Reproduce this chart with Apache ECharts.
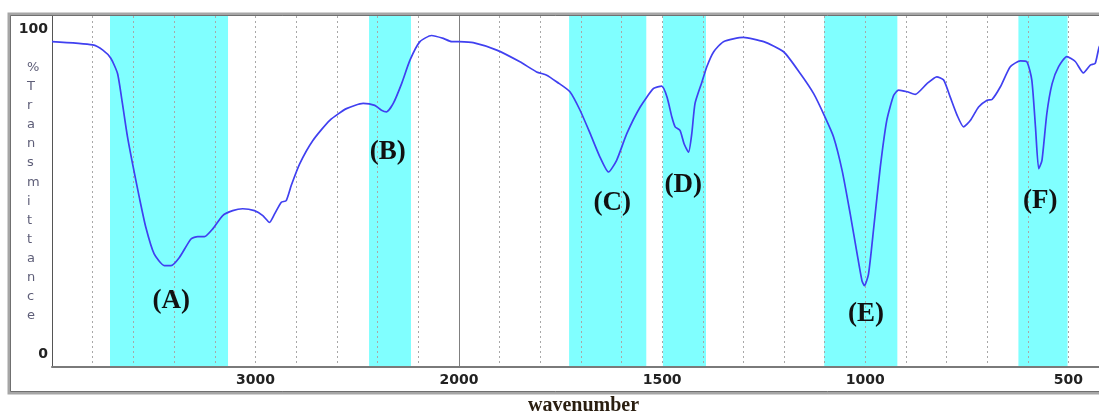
<!DOCTYPE html>
<html>
<head>
<meta charset="utf-8">
<script src="https://cdn.jsdelivr.net/npm/echarts@6/dist/echarts.min.js"></script>
<style>
  html, body { margin: 0; padding: 0; background: #fff; }
  #chart { width: 1099px; height: 414px; }
</style>
</head>
<body>
<div id="chart"></div>
<script>
// spectrum (wavenumber, %T)
const wavenumbers = [4000, 3800, 3750, 3711, 3678, 3654, 3629, 3604, 3571, 3539, 3498, 3448, 3415, 3374, 3317, 3284, 3251, 3210, 3161, 3112,
  3063, 3005, 2964, 2931, 2906, 2873, 2849, 2824, 2783, 2718, 2635, 2553, 2471, 2414, 2381, 2356, 2323, 2282, 2241, 2192,
  2135, 2077, 2036, 2000, 1965, 1907, 1850, 1809, 1784, 1759, 1727, 1702, 1677, 1653, 1632, 1612, 1587, 1554, 1521, 1501,
  1488, 1476, 1468, 1456, 1446, 1435, 1427, 1419, 1402, 1390, 1373, 1349, 1300, 1250, 1201, 1160, 1127, 1099, 1078, 1057,
  1037, 1020, 1008, 1002, 992, 979, 963, 947, 930, 918, 897, 877, 848, 824, 807, 791, 774, 758, 741, 721,
  700, 688, 667, 643, 618, 602, 590, 581, 573, 565, 553, 540, 524, 504, 483, 463, 446, 434, 424, 410]
const transmittance = [96.1, 95.1, 93.5, 91.0, 86.3, 77.1, 66.8, 58.5, 48.2, 39.0, 30.8, 27.2, 27.2, 29.7, 35.4, 36.1, 36.1, 38.5, 42.6, 44.1,
  44.7, 44.1, 42.6, 40.5, 43.1, 46.7, 47.2, 51.9, 58.5, 65.7, 71.9, 75.5, 77.1, 76.5, 75.0, 74.5, 77.1, 83.2, 90.4, 96.1,
  98.0, 97.1, 96.1, 96.1, 95.8, 93.5, 89.9, 86.8, 85.8, 83.7, 80.7, 75.0, 67.8, 60.6, 56.0, 59.6, 67.8, 76.0, 81.7, 82.4,
  79.1, 72.9, 69.9, 68.8, 64.7, 62.1, 67.8, 77.1, 83.7, 88.4, 93.0, 96.1, 97.4, 96.1, 93.0, 86.3, 80.1, 72.9, 66.8, 56.5,
  43.1, 30.8, 22.5, 21.0, 24.6, 39.0, 57.5, 71.9, 79.6, 81.2, 80.7, 79.9, 83.2, 85.3, 84.3, 79.1, 73.5, 69.9, 71.9, 76.0,
  78.1, 78.3, 82.3, 88.4, 90.2, 89.9, 84.3, 69.9, 57.0, 59.6, 74.0, 83.2, 88.4, 91.5, 90.0, 86.5, 88.9, 89.4, 94.5, 97]

// highlighted bands (from, to) and their labels
const bandNames = ['(A)', '(B)', '(C)', '(D)', '(E)', '(F)']
const bandFrom = [3715, 2442, 1729, 1498, 1101, 623]
const bandTo = [3135, 2236, 1539, 1392, 921, 502]
const labelWn = [3414, 2350, 1623, 1448, 998, 569]
const labelT = [16.4, 62, 46.3, 51.9, 12.3, 47.2]

const xTicksLeft = [3000]
const xTicksRight = [2000, 1500, 1000, 500]
const yTicks = [0, 100]

const BREAK = 2000
const chart = echarts.init(document.getElementById('chart'))

const points = wavenumbers.map((w, i) => [w, transmittance[i]])
const leftPts = points.filter(p => p[0] >= BREAK)
const rightPts = points.filter(p => p[0] <= BREAK)

const bandAreas = side => bandFrom
  .map((f, i) => [f, bandTo[i]])
  .filter(b => side === 0 ? b[1] >= BREAK : b[0] <= BREAK)
  .map(b => [{ xAxis: b[0] }, { xAxis: b[1] }])

const bandLabels = side => bandNames
  .map((n, i) => ({ n, w: labelWn[i], t: labelT[i] }))
  .filter(l => side === 0 ? l.w >= BREAK : l.w < BREAK)
  .map(l => ({
    coord: [l.w, l.t],
    symbolSize: 0,
    label: { show: true, formatter: l.n, position: 'inside' }
  }))

const tickFont = { color: '#222', fontWeight: 'bold', fontSize: 14, fontFamily: 'DejaVu Sans' }

const xAxisBase = {
  type: 'value',
  inverse: true,
  z: 3,
  axisLine: { onZero: false, lineStyle: { color: '#7a7a7a', width: 2 } },
  axisTick: { show: false },
  splitLine: { show: true, lineStyle: { color: '#a8a8a8', type: [2, 3], width: 1 } }
}

const yAxisBase = {
  type: 'value',
  min: -4,
  max: 104,
  interval: 4,
  z: 3,
  axisTick: { show: false },
  splitLine: { show: false }
}

const curve = (idx, data) => ({
  type: 'line',
  xAxisIndex: idx,
  yAxisIndex: idx,
  data: data,
  showSymbol: false,
  smooth: 0.2,
  z: 5,
  lineStyle: { color: '#4040f0', width: 1.7 },
  markPoint: {
    silent: true,
    label: { color: '#111', fontFamily: 'Liberation Serif', fontWeight: 'bold', fontSize: 27 },
    data: bandLabels(idx)
  }
})

const bands = idx => ({
  type: 'line',
  xAxisIndex: idx,
  yAxisIndex: idx,
  data: [],
  z: 1,
  markArea: {
    silent: true,
    itemStyle: { color: '#80ffff' },
    data: bandAreas(idx)
  }
})

chart.setOption({
  animation: false,
  backgroundColor: '#fff',
  grid: [
    { left: 52, top: 16, width: 407, height: 351, outerBoundsMode: 'none' },
    { left: 459, top: 16, width: 650, height: 351, outerBoundsMode: 'none' }
  ],
  xAxis: [
    Object.assign({}, xAxisBase, {
      gridIndex: 0, min: 2000, max: 4000, interval: 200,
      axisLabel: Object.assign({ margin: 6, formatter: v => xTicksLeft.includes(v) ? String(v) : '' }, tickFont)
    }),
    Object.assign({}, xAxisBase, {
      gridIndex: 1, min: 400, max: 2000, interval: 100,
      axisLabel: Object.assign({ margin: 6, formatter: v => xTicksRight.includes(v) ? String(v) : '' }, tickFont)
    })
  ],
  yAxis: [
    Object.assign({}, yAxisBase, {
      gridIndex: 0,
      axisLine: { show: true, onZero: false, lineStyle: { color: '#555', width: 1 } },
      axisLabel: Object.assign({ margin: 4, formatter: v => yTicks.includes(v) ? String(v) : '' }, tickFont)
    }),
    Object.assign({}, yAxisBase, {
      gridIndex: 1,
      axisLine: { show: true, onZero: false, lineStyle: { color: '#808080', width: 1 } },
      axisLabel: { show: false }
    })
  ],
  series: [bands(0), bands(1), curve(0, leftPts), curve(1, rightPts)],
  graphic: [
    {
      type: 'rect', z: 20, silent: true,
      shape: { x: 9, y: 14, width: 1110, height: 379 },
      style: { fill: null, stroke: '#a6a6a6', lineWidth: 3 }
    },
    {
      type: 'rect', z: 21, silent: true,
      shape: { x: 10.5, y: 15.5, width: 1110, height: 376 },
      style: { fill: null, stroke: '#707070', lineWidth: 1 }
    },
    {
      type: 'text', z: 20, silent: true,
      left: 27, top: 58,
      style: {
        text: '%Transmittance'.split('').join('\n'),
        fill: '#5e5e78', font: '13px "DejaVu Sans"', lineHeight: 19.1, align: 'center'
      }
    },
    {
      type: 'text', z: 20, silent: true,
      left: 528, top: 396,
      style: { text: 'wavenumber', fill: '#2a1e10', font: 'bold 20px "Liberation Serif"' }
    }
  ]
})
</script>
</body>
</html>
